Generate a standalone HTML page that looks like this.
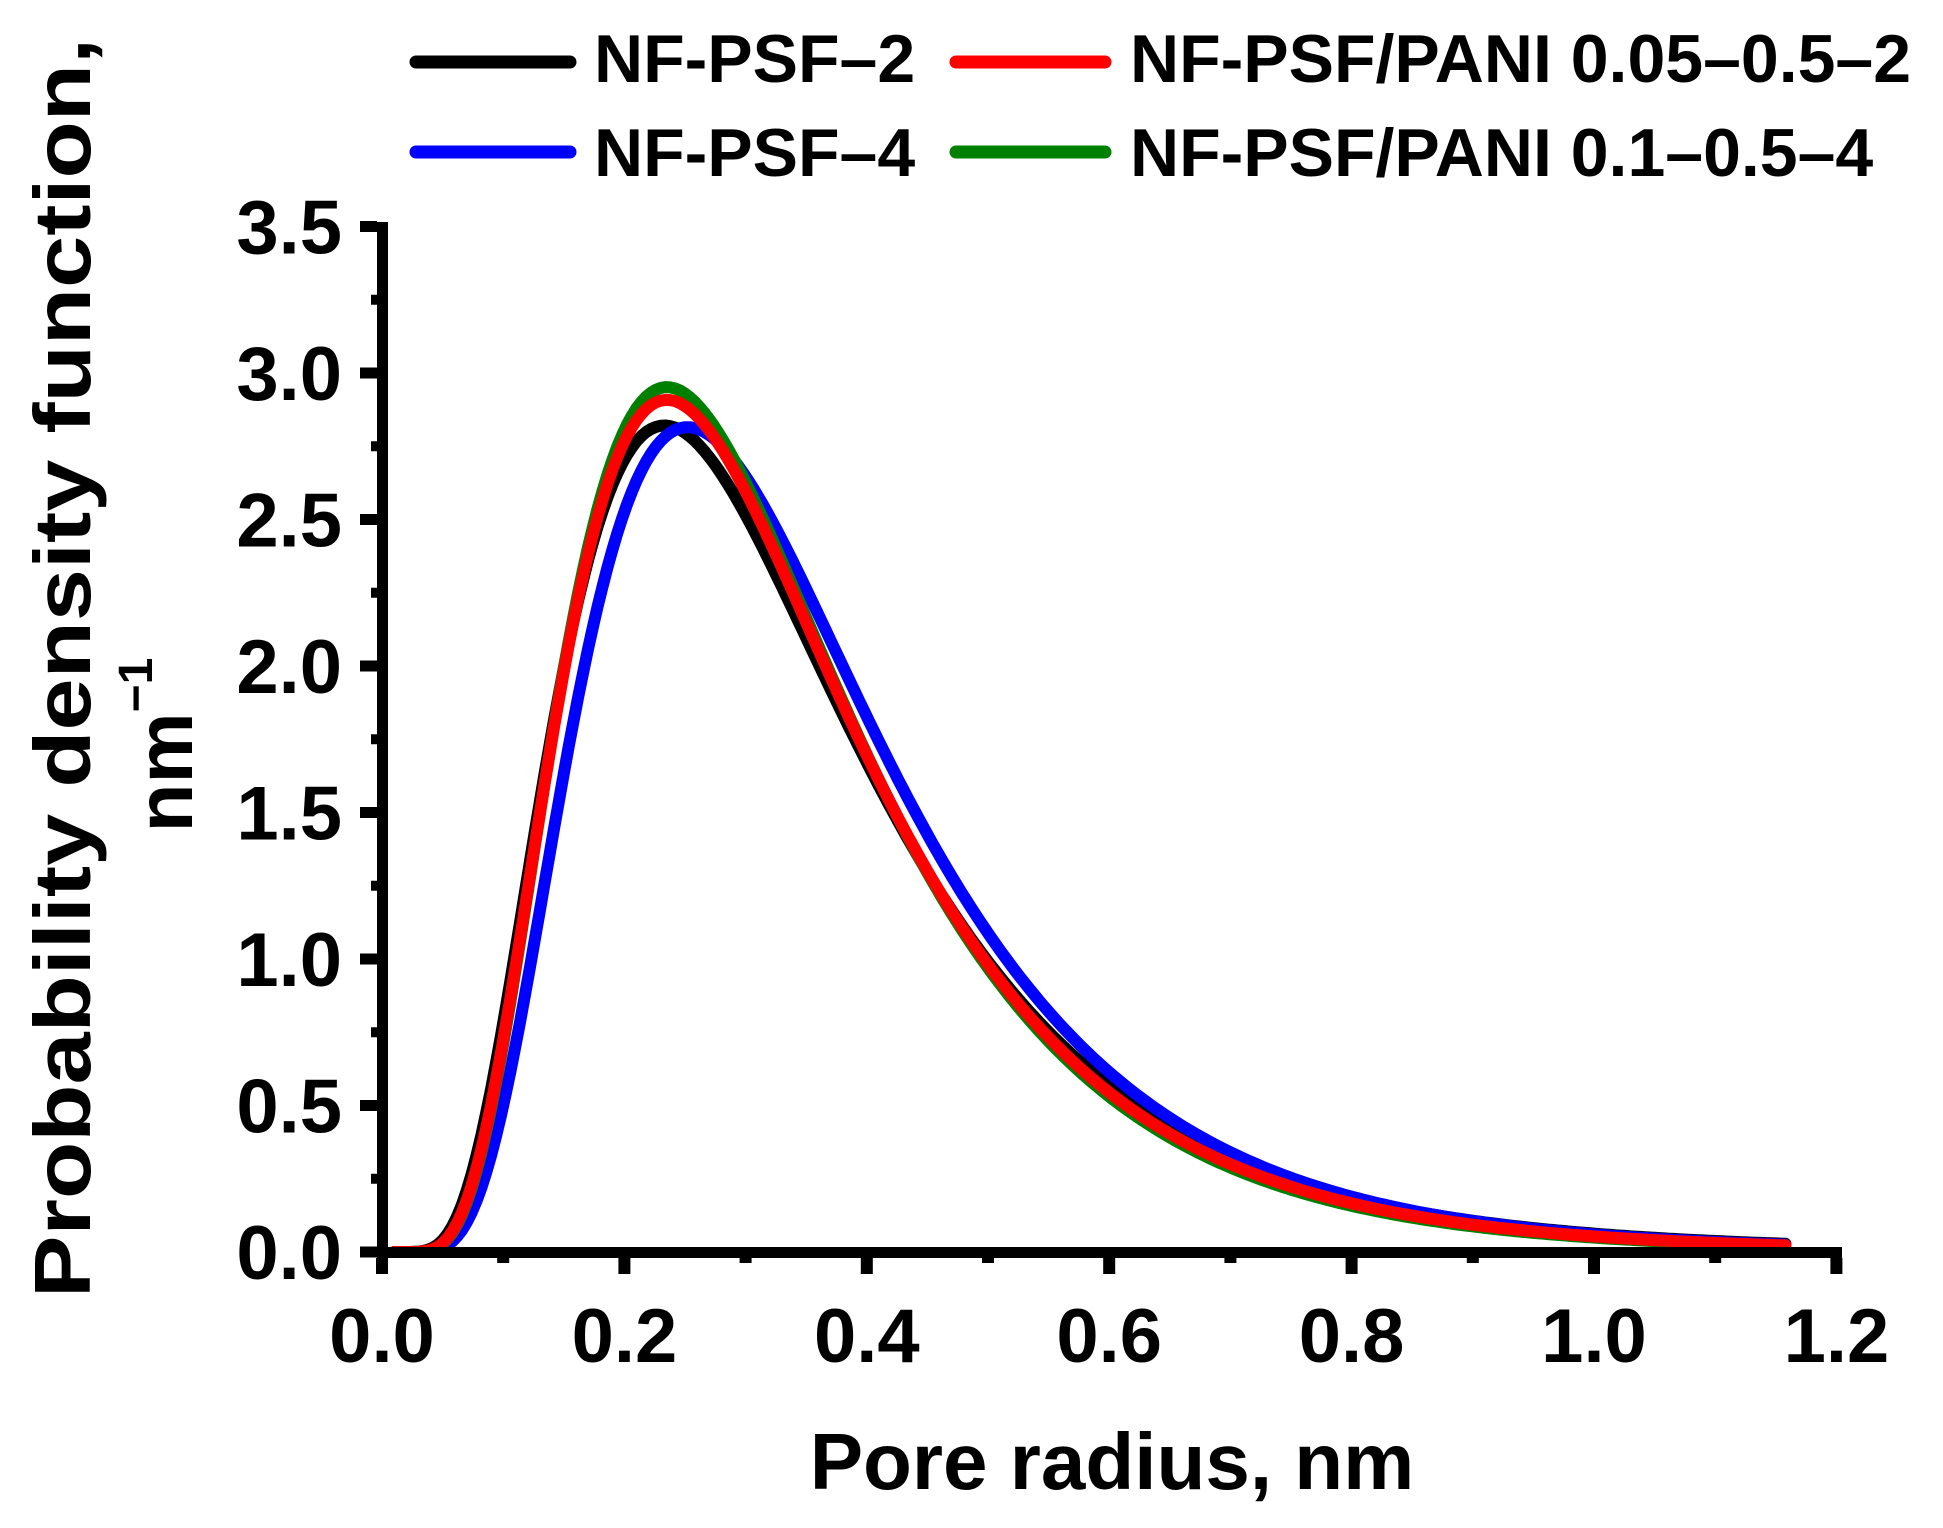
<!DOCTYPE html>
<html><head><meta charset="utf-8"><style>
html,body{margin:0;padding:0;background:#fff;}
svg{display:block;}
text{font-family:"Liberation Sans",Arial,sans-serif;font-weight:bold;fill:#000;}
</style></head><body>
<svg id="s" width="1943" height="1528" viewBox="0 0 1943 1528" xmlns="http://www.w3.org/2000/svg">
<g id="curves" fill="none" stroke-width="12" stroke-linecap="round" stroke-linejoin="round"></g>
<rect x="377" y="222" width="11" height="1036" fill="#000"/>
<rect x="377" y="1247" width="1465" height="11" fill="#000"/>
<g id="ticks" fill="#000"></g>
<g id="labels" font-size="76"></g>
<text x="1112" y="1489" font-size="80" text-anchor="middle">Pore radius, nm</text>
<text transform="translate(90,668) rotate(-90)" font-size="80" text-anchor="middle" textLength="1260" lengthAdjust="spacingAndGlyphs">Probability density function,</text>
<text transform="translate(192,745) rotate(-90)" font-size="80" text-anchor="middle">nm<tspan font-size="48" dy="-40">−1</tspan></text>
<g stroke-width="13" stroke-linecap="round">
<line x1="416" y1="62" x2="570" y2="62" stroke="#000"/>
<line x1="956" y1="62" x2="1105" y2="62" stroke="#ff0000"/>
<line x1="416" y1="152" x2="570" y2="152" stroke="#0000ff"/>
<line x1="956" y1="152" x2="1105" y2="152" stroke="#008000"/>
</g>
<g font-size="68">
<text x="594" y="82">NF-PSF–2</text>
<text x="1130" y="82">NF-PSF/PANI 0.05–0.5–2</text>
<text x="594" y="176">NF-PSF–4</text>
<text x="1130" y="176">NF-PSF/PANI 0.1–0.5–4</text>
</g>
</svg>
<script>
(function(){
var NS="http://www.w3.org/2000/svg";
function X(r){return 382+r*1212;}
function Y(v){return 1252-v*293;}
var series=[
 {c:"#000000",mode:0.233,s:0.528},
 {c:"#0000ff",mode:0.252,s:0.497},
 {c:"#008000",mode:0.235,s:0.506},
 {c:"#ff0000",mode:0.235,s:0.512}
];
var g=document.getElementById("curves");
series.forEach(function(o){
 var mu=Math.log(o.mode)+o.s*o.s;var d="";
 for(var r=0.01;r<=1.1601;r+=0.004){
  var v=Math.exp(-Math.pow(Math.log(r)-mu,2)/(2*o.s*o.s))/(r*o.s*Math.sqrt(2*Math.PI));
  d+=(d?"L":"M")+X(r).toFixed(1)+","+Y(v).toFixed(1);
 }
 var p=document.createElementNS(NS,"path");p.setAttribute("d",d);p.setAttribute("stroke",o.c);g.appendChild(p);
});
var t=document.getElementById("ticks"),l=document.getElementById("labels");
function rect(x,y,w,h){var e=document.createElementNS(NS,"rect");e.setAttribute("x",x);e.setAttribute("y",y);e.setAttribute("width",w);e.setAttribute("height",h);t.appendChild(e);}
function txt(x,y,s,a){var e=document.createElementNS(NS,"text");e.setAttribute("x",x);e.setAttribute("y",y);e.setAttribute("text-anchor",a);e.textContent=s;l.appendChild(e);}
for(var i=0;i<=14;i++){
 var v=i*0.25,y=Y(v);
 if(i%2==0){rect(360,y-5.5,17,11);txt(342,y+27,v.toFixed(1),"end");}
 else rect(371,y-5,6,10);
}
for(var j=0;j<=12;j++){
 var r=j*0.1,x=X(r);
 if(j%2==0){rect(x-6,1258,12,16);txt(x,1362,r.toFixed(1),"middle");}
 else rect(x-6,1258,12,5);
}
})();
</script>
</body></html>
